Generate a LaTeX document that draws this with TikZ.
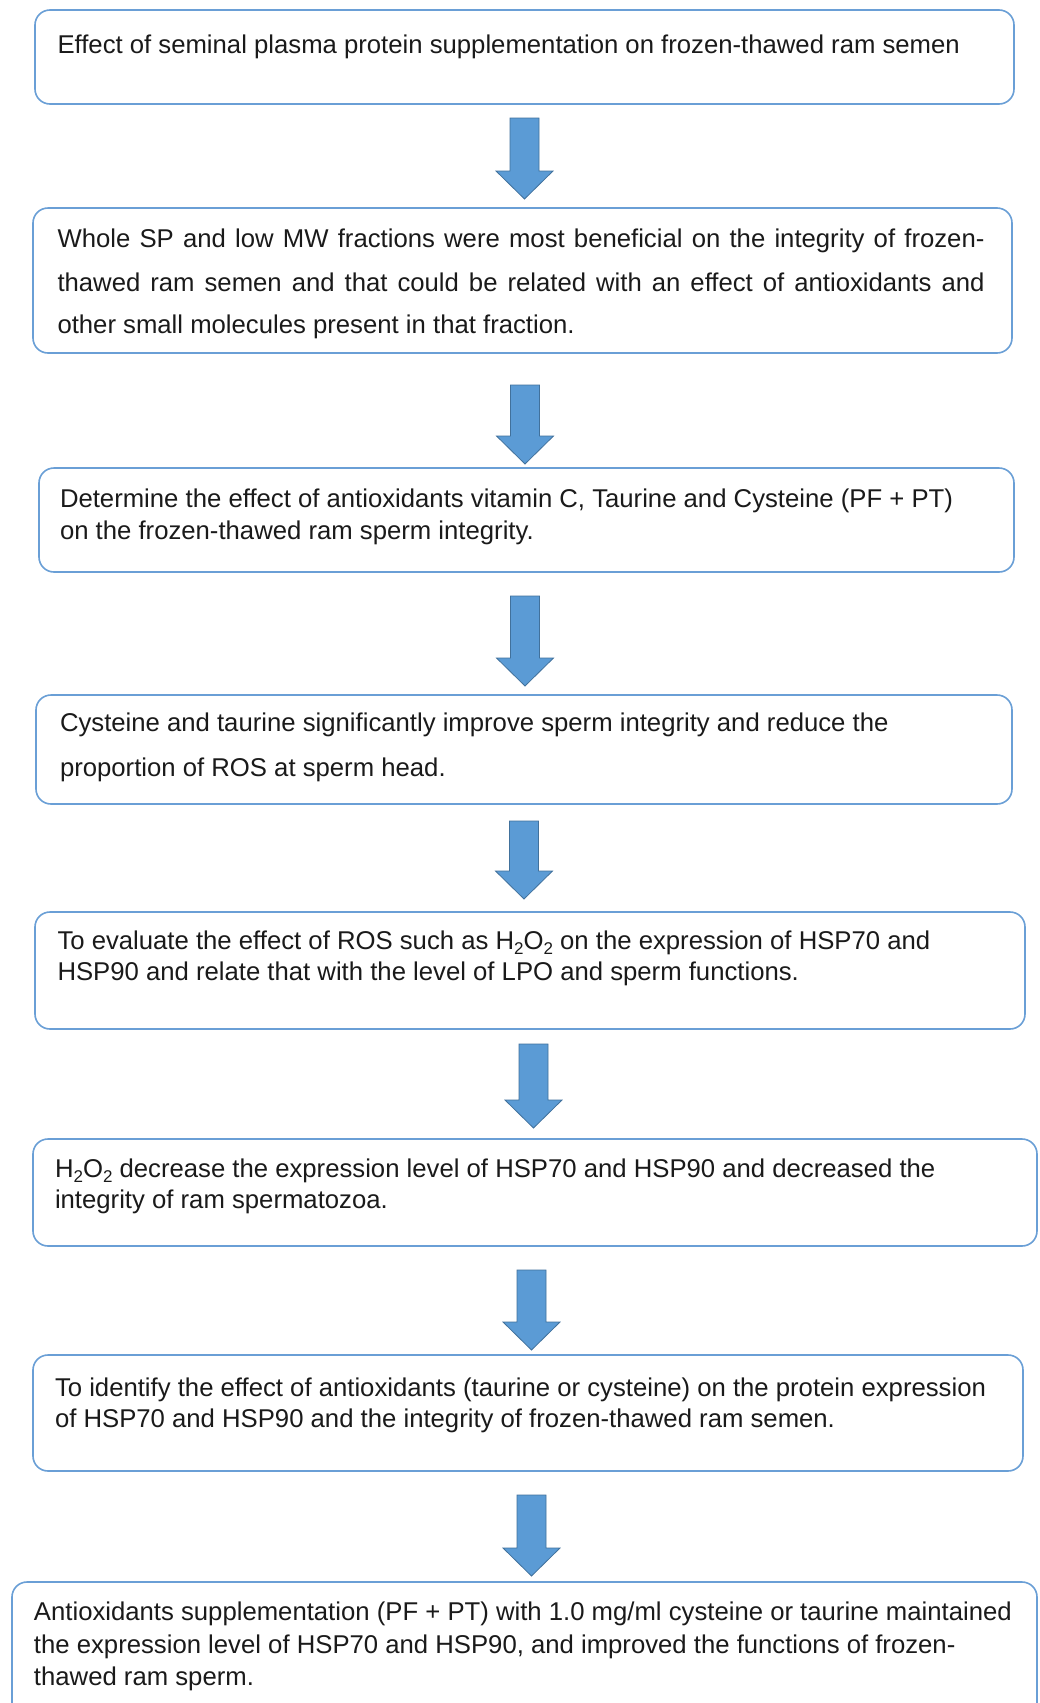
\documentclass[tikz,border=0pt]{standalone}
\usepackage{fontspec}
\setmainfont{Liberation Sans}
\definecolor{boxline}{HTML}{6A9FD6}
\definecolor{arrfill}{HTML}{5B9BD5}
\definecolor{arrline}{HTML}{41719C}
\definecolor{txtcol}{HTML}{1A1A1A}
\tikzset{
  flowbox/.style={draw=boxline, line width=1.6pt, rounded corners=15pt, fill=white},
  txt/.style={anchor=base west, inner sep=0pt, outer sep=0pt, text=txtcol,
              font=\fontsize{25.7}{31}\selectfont},
  blockarr/.style={fill=arrfill, draw=arrline, line width=0.8pt, line join=miter}
}
\newcommand\blockarrow[4]{% name, center x, top y, tip y
  \coordinate (#1) at (#2,#4);
  \path[blockarr] (#2-14.5,#3) -- (#2+14.5,#3) -- (#2+14.5,#4-28) -- (#2+28.5,#4-28)
     -- (#1) -- (#2-28.5,#4-28) -- (#2-14.5,#4-28) -- cycle;}
\newcommand\sbs[1]{\raisebox{-0.2em}{\fontsize{17}{17}\selectfont #1}}
\begin{document}
\begin{tikzpicture}[x=1pt,y=-1pt]
\useasboundingbox (0,0) rectangle (1039,1703);
\clip (0,0) rectangle (1039,1703);
\fill[white] (0,0) rectangle (1039,1703);

% boxes
\draw[flowbox] (35,10) rectangle (1014,104) coordinate (b1);
\draw[flowbox] (33,208) rectangle (1012,353) coordinate (b2);
\draw[flowbox] (39,468) rectangle (1014,572) coordinate (b3);
\draw[flowbox] (36,695) rectangle (1012,804) coordinate (b4);
\draw[flowbox] (35,912) rectangle (1025,1029) coordinate (b5);
\draw[flowbox] (33,1139) rectangle (1037,1246) coordinate (b6);
\draw[flowbox] (12,1582) rectangle (1037,1725) coordinate (b8);
\draw[flowbox] (33,1355) rectangle (1023,1471) coordinate (b7);

% arrows
\blockarrow{a1}{524.5}{118}{199}
\blockarrow{a2}{525}{385}{464}
\blockarrow{a3}{525}{596}{686}
\blockarrow{a4}{524}{821}{899}
\blockarrow{a5}{533.5}{1044}{1128}
\blockarrow{a6}{531.5}{1270}{1350}
\blockarrow{a7}{531.5}{1495}{1576}

% texts
\node[txt] (t1) at (57.5,53) {Effect of seminal plasma protein supplementation on frozen-thawed ram semen};

\node[txt] (t2a) at (57.5,247) {\makebox[927pt][s]{Whole SP and low MW fractions were most beneficial on the integrity of frozen-}};
\node[txt] (t2b) at (57.5,291) {\makebox[927pt][s]{thawed ram semen and that could be related with an effect of antioxidants and}};
\node[txt] (t2c) at (57.5,333) {other small molecules present in that fraction.};

\node[txt] (t3a) at (60,507) {Determine the effect of antioxidants vitamin C, Taurine and Cysteine (PF + PT)};
\node[txt] (t3b) at (60,539) {on the frozen-thawed ram sperm integrity.};

\node[txt] (t4a) at (60,731) {Cysteine and taurine significantly improve sperm integrity and reduce the};
\node[txt] (t4b) at (60,776) {proportion of ROS at sperm head.};

\node[txt] (t5a) at (57.5,949) {To evaluate the effect of ROS such as H\sbs{2}O\sbs{2} on the expression of HSP70 and};
\node[txt] (t5b) at (57.5,980) {HSP90 and relate that with the level of LPO and sperm functions.};

\node[txt] (t6a) at (55,1177) {H\sbs{2}O\sbs{2} decrease the expression level of HSP70 and HSP90 and decreased the};
\node[txt] (t6b) at (55,1208) {integrity of ram spermatozoa.};

\node[txt] (t7a) at (55,1396) {To identify the effect of antioxidants (taurine or cysteine) on the protein expression};
\node[txt] (t7b) at (55,1427) {of HSP70 and HSP90 and the integrity of frozen-thawed ram semen.};

\node[txt] (t8a) at (34,1620) {Antioxidants supplementation (PF + PT) with 1.0 mg/ml cysteine or taurine maintained};
\node[txt] (t8b) at (34,1653) {the expression level of HSP70 and HSP90, and improved the functions of frozen-};
\node[txt] (t8c) at (34,1685) {thawed ram sperm.};
\end{tikzpicture}
\end{document}
